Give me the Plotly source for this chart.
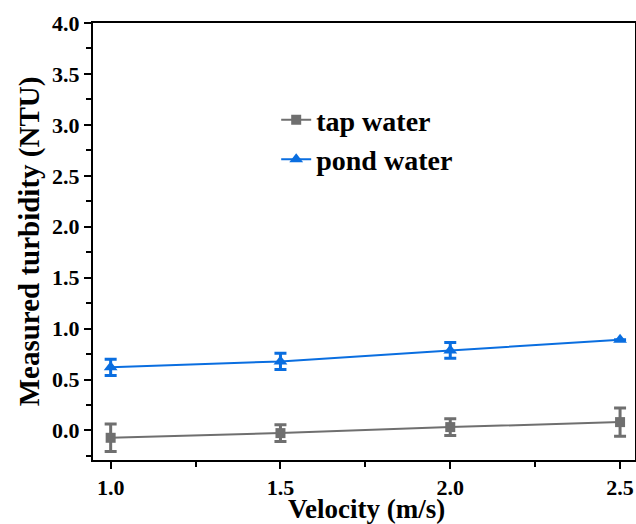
import plotly.graph_objects as go

velocity = [1.0, 1.5, 2.0, 2.5]
tap_water = [-0.072, -0.026, 0.033, 0.082]
tap_err = [0.135, 0.082, 0.082, 0.138]
pond_water = [0.62, 0.678, 0.786, 0.89]
pond_err = [0.08, 0.08, 0.078, 0.0]

GRAY = "#6f6f6f"
BLUE = "#0a6ee0"
FONT = "Liberation Serif, Times New Roman, serif"

fig = go.Figure()
fig.add_trace(go.Scatter(
    x=velocity, y=tap_water, name="tap water", mode="lines+markers",
    line=dict(color=GRAY, width=2),
    marker=dict(symbol="square", size=10, color=GRAY),
    error_y=dict(type="data", array=tap_err, visible=True, color=GRAY, thickness=3, width=6),
))
fig.add_trace(go.Scatter(
    x=velocity, y=pond_water, name="pond water", mode="lines+markers",
    line=dict(color=BLUE, width=2),
    marker=dict(symbol="triangle-up", size=12, color=BLUE),
    error_y=dict(type="data", array=pond_err, visible=True, color=BLUE, thickness=3, width=6),
))

axis_common = dict(
    showgrid=False, zeroline=False, showline=True, linecolor="black", linewidth=2,
    ticks="outside", ticklen=7, tickwidth=2, tickcolor="black",
    tickfont=dict(family=FONT, size=22, color="black", weight="bold"),
    title_font=dict(family=FONT, size=29, color="black", weight="bold"),
    mirror=True, automargin=False,
)

fig.update_xaxes(
    **axis_common, range=[0.948, 2.544], tickvals=velocity, ticktext=["1.0", "1.5", "2.0", "2.5"],
    minor=dict(ticks="outside", ticklen=5, tickwidth=2, tickcolor="black", dtick=0.25, tick0=1.0),
)
fig.update_yaxes(
    **axis_common, range=[-0.29, 4.0], dtick=0.5, tick0=0, tickformat=".1f",
    minor=dict(ticks="outside", ticklen=5, tickwidth=2, tickcolor="black", dtick=0.25, tick0=0),
    title_text="Measured turbidity (NTU)", title_standoff=4,
)

fig.add_annotation(
    text="Velocity (m/s)", xref="paper", yref="paper", x=0.505, y=-0.1464,
    xanchor="center", yanchor="bottom", yshift=-1, showarrow=False, borderpad=0,
    font=dict(family=FONT, size=27, color="black", weight="bold"),
)

fig.update_layout(
    width=636, height=524,
    margin=dict(l=93, r=1, t=23, b=64),
    plot_bgcolor="white", paper_bgcolor="white",
    legend=dict(
        x=0.338, y=0.835, xanchor="left", yanchor="top",
        font=dict(family=FONT, size=28, color="black", weight="bold"),
        bgcolor="rgba(0,0,0,0)",
    ),
)

fig.write_html("out.html")
